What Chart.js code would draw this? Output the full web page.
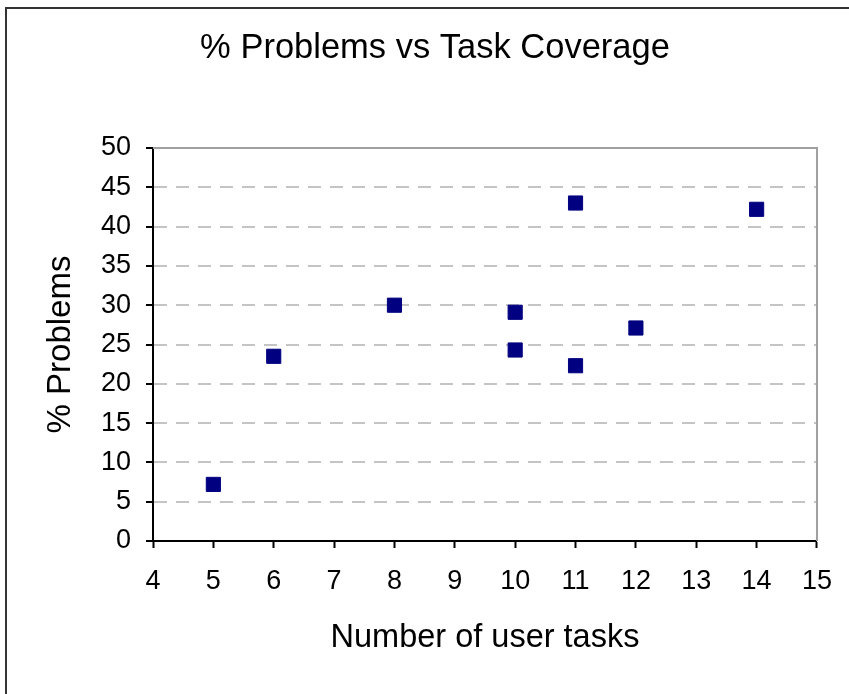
<!DOCTYPE html>
<html>
<head>
<meta charset="utf-8">
<script src="https://cdn.jsdelivr.net/npm/chart.js@4.4.1/dist/chart.umd.min.js"></script>
<style>
  html, body { margin: 0; padding: 0; background: #fff; }
  canvas { display: block; }
</style>
</head>
<body>
<canvas id="chart" width="849" height="694"></canvas>
<script>
// ============ DATOS ============
const chartTitle = '% Problems vs Task Coverage';
const xTitle = 'Number of user tasks';
const yTitle = '% Problems';
const userTasks = [5, 6, 8, 10, 10, 11, 11, 12, 14];
const pctProblems = [7.2, 23.5, 30, 29.1, 24.3, 43, 22.3, 27.1, 42.2];
const xRange = [4, 15];
const yRange = [0, 50];

const FONT = "'Liberation Sans', Arial, Helvetica, sans-serif";

// marco exterior + título + borde gris del área de trazado
const framePlugin = {
  id: 'framePlugin',
  beforeDatasetsDraw(chart) {
    const { ctx, chartArea: a } = chart;
    ctx.save();
    ctx.strokeStyle = '#a0a0a0';
    ctx.lineWidth = 2;
    ctx.beginPath();
    ctx.moveTo(a.left, a.top);
    ctx.lineTo(a.right, a.top);
    ctx.lineTo(a.right, a.bottom);
    ctx.stroke();
    ctx.restore();
  },
  afterDraw(chart) {
    const { ctx } = chart;
    ctx.save();
    ctx.strokeStyle = '#333';
    ctx.lineWidth = 2;
    ctx.beginPath();
    ctx.moveTo(6, 700);
    ctx.lineTo(6, 8);
    ctx.lineTo(860, 8);
    ctx.stroke();
    ctx.fillStyle = '#000';
    ctx.font = '34.5px ' + FONT;
    ctx.textAlign = 'center';
    ctx.textBaseline = 'middle';
    ctx.fillText(chartTitle, 435, 48);
    ctx.restore();
  }
};

const points = userTasks.map((x, i) => ({ x: x, y: pctProblems[i] }));

new Chart(document.getElementById('chart'), {
  type: 'scatter',
  data: {
    datasets: [{
      data: points,
      pointStyle: 'rect',
      pointRadius: 10,
      backgroundColor: '#000080',
      borderColor: '#000080',
      borderWidth: 1
    }]
  },
  options: {
    responsive: false,
    animation: false,
    devicePixelRatio: 1,
    layout: { padding: { top: 148, right: 31, bottom: 0, left: 0 } },
    plugins: { legend: { display: false }, tooltip: { enabled: false }, title: { display: false } },
    scales: {
      x: {
        type: 'linear', min: xRange[0], max: xRange[1],
        afterFit: s => { s.height = 153; },
        ticks: { stepSize: 1, color: '#000', padding: 17, font: { family: FONT, size: 27 } },
        grid: { drawOnChartArea: false, tickLength: 7, tickColor: '#000', tickWidth: 2, tickBorderDash: [] },
        border: { color: '#000', width: 2 },
        title: { display: true, text: xTitle, color: '#000', font: { family: FONT, size: 32.5 }, padding: { top: 0, bottom: 36 } }
      },
      y: {
        type: 'linear', min: yRange[0], max: yRange[1],
        afterFit: s => { s.width = 153; },
        ticks: { stepSize: 5, color: '#000', padding: 15, font: { family: FONT, size: 27 } },
        grid: {
          color: c => (c.tick && (c.tick.value === yRange[0] || c.tick.value === yRange[1])) ? 'rgba(0,0,0,0)' : '#c4c4c4',
          lineWidth: 2, tickLength: 7, tickColor: '#000', tickWidth: 2, tickBorderDash: []
        },
        border: { color: '#000', width: 2, dash: [13, 9] },
        title: { display: true, text: yTitle, color: '#000', font: { family: FONT, size: 33 }, padding: { top: 41, bottom: 0 } }
      }
    }
  },
  plugins: [framePlugin]
});
</script>
</body>
</html>
